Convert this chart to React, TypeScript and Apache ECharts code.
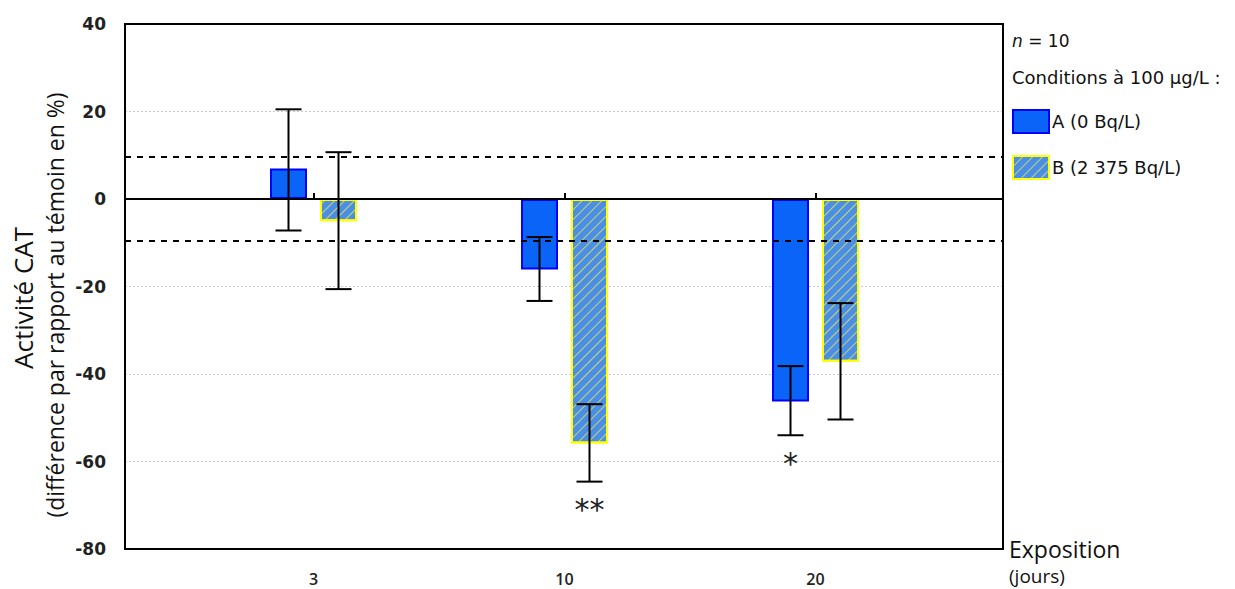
import React, { useEffect, useRef } from "react";
import * as echarts from "echarts";

const categories = ["3", "10", "20"];
const seriesAName = "A (0 Bq/L)";
const seriesBName = "B (2 375 Bq/L)";
const valuesA = [7.0, -16.1, -46.3];
const valuesB = [-5.1, -55.9, -37.2];
const errLowA = [-7.2, -23.3, -54.0];
const errHighA = [20.5, -8.7, -38.2];
const errLowB = [-20.6, -64.6, -50.4];
const errHighB = [10.7, -46.9, -23.8];
const signifA = ["", "", "*"];
const signifB = ["", "**", ""];
const yTicks = [40, 20, 0, -20, -40, -60, -80];
const thresholds = [9.6, -9.6];

const BAR_W = 37;
const BAR_GAP = 13;
const OFFSET = (BAR_W + BAR_GAP) / 2;

export default function App() {
  const ref = useRef<HTMLDivElement>(null);
  useEffect(() => {
    if (!ref.current) return;
    const chart = echarts.init(ref.current, undefined, { renderer: "svg" });
    const yMin = yTicks[yTicks.length - 1];
    const yMax = yTicks[0];
    const errData = (lows: number[], highs: number[], sig: string[]) =>
      categories.map((_, i) => [i, lows[i], highs[i], sig[i]]);
    const makeErr = (name: string, lows: number[], highs: number[], sig: string[], side: number) => ({
      type: "custom",
      name: name + " err",
      xAxisIndex: 1,
      yAxisIndex: 1,
      z: 5,
      data: errData(lows, highs, sig),
      renderItem: (params: any, api: any) => {
        const i = api.value(0);
        const lo = api.coord([i, api.value(1)]);
        const hi = api.coord([i, api.value(2)]);
        const x = lo[0] + side * OFFSET;
        const cap = 13;
        const s = { stroke: "#000", lineWidth: 2 };
        const children: any[] = [
          { type: "line", shape: { x1: x, y1: hi[1], x2: x, y2: lo[1] }, style: s },
          { type: "line", shape: { x1: x - cap, y1: hi[1], x2: x + cap, y2: hi[1] }, style: s },
          { type: "line", shape: { x1: x - cap, y1: lo[1], x2: x + cap, y2: lo[1] }, style: s },
        ];
        const txt = sig[params.dataIndex];
        if (txt) {
          children.push({
            type: "text",
            style: {
              text: txt,
              x: x,
              y: lo[1] + 13,
              align: "center",
              verticalAlign: "top",
              fontSize: 30,
              fontFamily: "DejaVu Sans",
              fill: "#222",
            },
          });
        }
        return { type: "group", children };
      },
    });

    chart.setOption({
      animation: false,
      grid: [
        { left: 125, right: 232, top: 24, bottom: 40, show: true, borderColor: "#000", borderWidth: 2, backgroundColor: "transparent", z: 10 },
        { left: 188, width: 753, top: 24, bottom: 40 },
      ],
      xAxis: [
        { type: "value", gridIndex: 0, min: 0, max: 1, show: false },
        {
          type: "category",
          gridIndex: 1,
          data: categories,
          axisLine: { show: false },
          axisTick: { show: true, inside: true, alignWithLabel: true, length: 6, lineStyle: { color: "#000", width: 2 } },
          axisLabel: { margin: 22, fontSize: 16, fontWeight: 600, color: "#222", fontFamily: "Open Sans" },
        },
      ],
      yAxis: [
        {
          type: "value",
          gridIndex: 0,
          min: yMin,
          max: yMax,
          interval: 20,
          axisLine: { show: false },
          axisTick: { show: false },
          axisLabel: { margin: 19, fontSize: 17, fontWeight: "bold", color: "#222", fontFamily: "DejaVu Sans" },
          splitLine: { show: true, lineStyle: { color: "#c8c8c8", type: [2, 2], width: 1 } },
        },
        { type: "value", gridIndex: 1, min: yMin, max: yMax, interval: 20, show: false, splitLine: { show: false } },
      ],
      legend: {
        orient: "vertical",
        left: 1012,
        top: 109,
        padding: 0,
        icon: "rect",
        itemWidth: 36,
        itemHeight: 23,
        itemGap: 21,
        data: [seriesAName, seriesBName],
        textStyle: { fontSize: 18, fontFamily: "DejaVu Sans", color: "#111", padding: [0, 0, 0, -2] },
      },
      series: [
        {
          type: "line",
          xAxisIndex: 0,
          yAxisIndex: 0,
          data: [],
          silent: true,
          markLine: {
            symbol: "none",
            silent: true,
            label: { show: false },
            data: [
              { yAxis: 0, lineStyle: { color: "#000", width: 2, type: "solid" } },
              ...thresholds.map((t) => ({ yAxis: t, lineStyle: { color: "#000", width: 2, type: [6, 6] } })),
            ],
          },
        },
        {
          type: "bar",
          name: seriesAName,
          xAxisIndex: 1,
          yAxisIndex: 1,
          data: valuesA,
          barWidth: BAR_W,
          barGap: (BAR_GAP / BAR_W) * 100 + "%",
          itemStyle: { color: "#0a64f8", borderColor: "#0000ff", borderWidth: 2 },
        },
        {
          type: "bar",
          name: seriesBName,
          xAxisIndex: 1,
          yAxisIndex: 1,
          data: valuesB,
          barWidth: BAR_W,
          itemStyle: {
            color: "#4a8ee6",
            borderColor: "#ffff00",
            borderWidth: 2,
            decal: {
              symbol: "rect",
              symbolSize: 1,
              dashArrayX: [[1, 0]],
              dashArrayY: [1, 6],
              rotation: -Math.PI / 4,
              color: "rgba(225,225,90,0.85)",
            },
          },
        },
        makeErr(seriesAName, errLowA, errHighA, signifA, -1),
        makeErr(seriesBName, errLowB, errHighB, signifB, 1),
      ],
      graphic: [
        { type: "text", x: 23, y: 298, rotation: Math.PI / 2, style: { text: "Activité CAT", align: "center", verticalAlign: "middle", fontSize: 26, fontFamily: "Open Sans", fill: "#111" } },
        { type: "text", x: 55, y: 305, rotation: Math.PI / 2, style: { text: "(différence par rapport au témoin en %)", align: "center", verticalAlign: "middle", fontSize: 23, fontFamily: "Open Sans", fill: "#111" } },
        { type: "text", x: 1009, y: 549, style: { text: "Exposition", align: "left", verticalAlign: "middle", fontSize: 23, fontFamily: "Open Sans", fill: "#111" } },
        { type: "text", x: 1009, y: 576, style: { text: "(jours)", align: "left", verticalAlign: "middle", fontSize: 19, fontFamily: "Open Sans", fill: "#111" } },
        { type: "text", x: 1012, y: 41, style: { text: "{i|n} = 10", align: "left", verticalAlign: "middle", fontSize: 17, fontFamily: "DejaVu Sans", fill: "#111", rich: { i: { fontStyle: "italic", fontSize: 17, fontFamily: "DejaVu Sans" } } } },
        { type: "text", x: 1012, y: 77, style: { text: "Conditions à 100 µg/L :", align: "left", verticalAlign: "middle", fontSize: 18, fontFamily: "DejaVu Sans", fill: "#111" } },
      ],
    });
    return () => chart.dispose();
  }, []);
  return <div ref={ref} style={{ width: 1235, height: 589, position: "absolute", left: 0, top: 0 }} />;
}
